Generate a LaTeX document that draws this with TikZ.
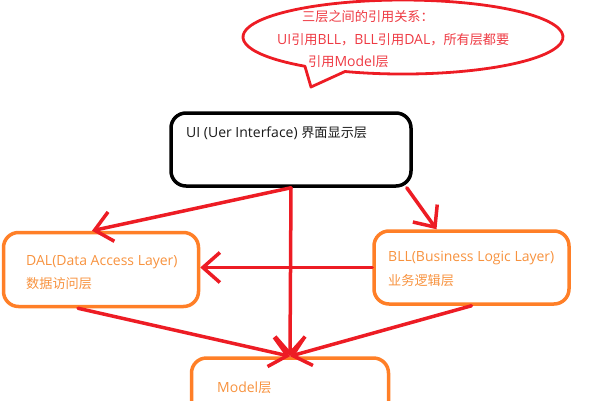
\documentclass[tikz,border=0pt]{standalone}
\usepackage{fontspec}
\setmainfont{Open Sans}
\newfontfamily\cjk{Noto Sans CJK SC}[Scale=0.94]
\usetikzlibrary{arrows.meta}
\definecolor{arrowred}{HTML}{ED1C24}
\definecolor{notered}{HTML}{EE3A43}
\definecolor{boxorange}{HTML}{FF7F27}
\definecolor{textorange}{HTML}{F7923E}
\begin{document}
\begin{tikzpicture}[x=1pt,y=-1pt,
  box/.style={draw, rounded corners=15pt, line width=3.5pt},
  obox/.style={box, draw=boxorange, minimum width=195pt, minimum height=74pt},
  txt/.style={anchor=west, inner sep=0pt, font=\fontsize{14}{16}\selectfont},
  ref/.style={draw=arrowred, line width=3.5pt, line cap=round, -{Straight Barb[length=17pt,width=30pt]}}]
\useasboundingbox (0,0) rectangle (600,400);
% callout
\draw[draw=arrowred, line width=2.8pt, line join=round] (345,71.5) arc[start angle=111.25, end angle=-232.2, x radius=160, y radius=37] -- (311,87) -- cycle;
\node[txt, notered] (note1) at (302,17) {\cjk 三层之间的引用关系：};
\node[txt, notered] (note2) at (277,40) {UI{\cjk 引用}BLL{\cjk ，}BLL{\cjk 引用}DAL{\cjk ，所有层都要}};
\node[txt, notered] (note3) at (308,62) {{\cjk 引用}Model{\cjk 层}};
% layers
\node[box, minimum width=240pt, minimum height=73pt] (ui) at (291,149.5) {};
\node[txt, black!90] (uitext) at (186,133) {UI (Uer Interface) {\cjk 界面显示层}};
\node[obox] (dal) at (101,269.5) {};
\node[txt, textorange] (daltext1) at (26,262) {DAL(Data Access Layer)};
\node[txt, textorange] (daltext2) at (26,284) {\cjk 数据访问层};
\node[obox, minimum height=73pt] (bll) at (471.5,267.5) {};
\node[txt, textorange] (blltext1) at (388,258) {BLL(Business Logic Layer)};
\node[txt, textorange] (blltext2) at (388,281) {\cjk 业务逻辑层};
\node[obox, minimum width=197pt, minimum height=80pt] (model) at (290,398) {};
\node[txt, textorange] (modeltext) at (217,388) {Model{\cjk 层}};
% references
\draw[ref] (ui.south) -- ([xshift=-9pt]dal.north);
\draw[ref] ([xshift=-6pt]ui.south east) -- ([xshift=-35pt]bll.north);
\draw[ref] (ui.south) -- (model.north);
\draw[ref] (bll.west) -- (bll.west -| dal.east);
\draw[ref] ([xshift=-23pt]dal.south) -- (model.north);
\draw[ref] (bll.south) -- (model.north);
\end{tikzpicture}
\end{document}
